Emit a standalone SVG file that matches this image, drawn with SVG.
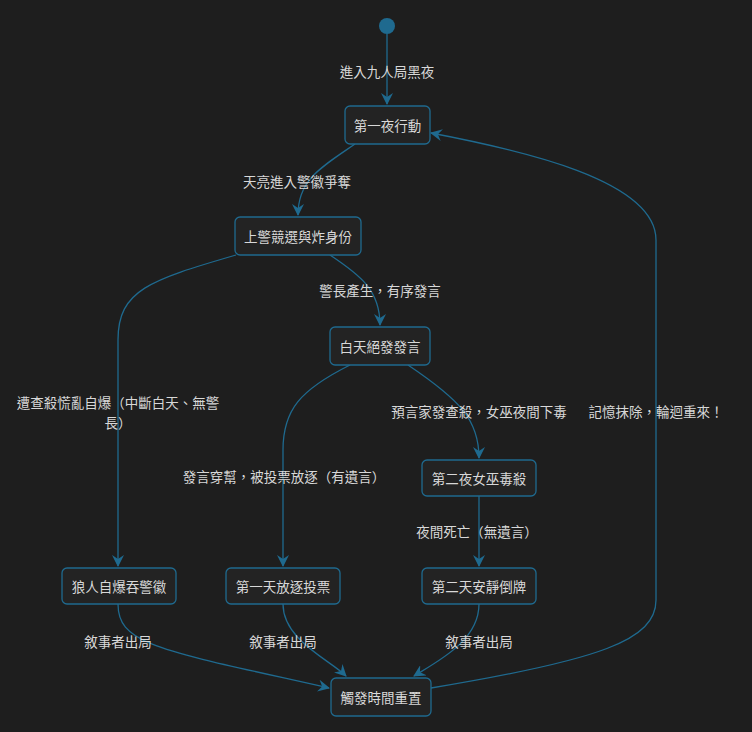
<svg xmlns="http://www.w3.org/2000/svg" width="752" height="732" viewBox="0 0 752 732">
<defs>
<marker id="a" viewBox="0 0 12 12" refX="11" refY="6" markerWidth="12" markerHeight="12" markerUnits="userSpaceOnUse" orient="auto"><path d="M0,0 L12,6 L0,12 L4,6 Z" fill="#1f6a8f"/></marker>
<style>
.n rect{fill:#232323;stroke:#1f6a8f;stroke-width:1.3}
text{font-family:"Noto Sans CJK TC","Noto Sans CJK SC",sans-serif;font-size:13.5px;fill:#d8d8d8;text-anchor:middle;dominant-baseline:central}
.e path{fill:none;stroke:#1f6a8f;stroke-width:1.3;marker-end:url(#a)}
</style>
</defs>
<rect width="752" height="732" fill="#1e1e1e"/>
<g class="e" id="edges">
<path d="M387,34 L387,104"/>
<path d="M355,144 C320,168 298,180 298,215"/>
<path d="M330,255 C360,275 380,290 380,325"/>
<path d="M236,255 C150,280 118,290 118,340 L118,566"/>
<path d="M350,365 C300,390 283,410 283,450 L283,566"/>
<path d="M408,365 C460,400 479,420 479,458"/>
<path d="M479,496 L479,566"/>
<path d="M118,604 C118,645 160,650 329,688"/>
<path d="M283,604 C283,640 330,660 346,676"/>
<path d="M479,604 C479,640 440,660 414,676"/>
<path d="M431,688 C600,660 656,640 656,600 L656,240 C656,180 520,150 431,133"/>
</g>
<g id="labels">
<text x="387" y="71">進入九人局黑夜</text>
<text x="297" y="181">天亮進入警徽爭奪</text>
<text x="380" y="290">警長產生，有序發言</text>
<text x="118" y="402">遭查殺慌亂自爆（中斷白天、無警</text>
<text x="118" y="422">長）</text>
<text x="479" y="411">預言家發查殺，女巫夜間下毒</text>
<text x="656" y="411">記憶抹除，輪迴重來！</text>
<text x="284" y="476">發言穿幫，被投票放逐（有遺言）</text>
<text x="477" y="531">夜間死亡（無遺言）</text>
<text x="118" y="641">敘事者出局</text>
<text x="283" y="641">敘事者出局</text>
<text x="479" y="641">敘事者出局</text>
</g>
<circle id="start" cx="387" cy="26" r="8" fill="#1f6a8f"/>
<g class="n" id="n1"><rect x="345" y="106" width="85" height="38" rx="5"/><text x="387.5" y="125">第一夜行動</text></g>
<g class="n" id="n2"><rect x="235" y="217" width="126" height="38" rx="5"/><text x="298" y="236">上警競選與炸身份</text></g>
<g class="n" id="n3"><rect x="330" y="327" width="100" height="38" rx="5"/><text x="380" y="346">白天絕發發言</text></g>
<g class="n" id="n4"><rect x="422" y="460" width="114" height="36" rx="5"/><text x="479" y="478">第二夜女巫毒殺</text></g>
<g class="n" id="n5"><rect x="62" y="568" width="114" height="36" rx="5"/><text x="119" y="586">狼人自爆吞警徽</text></g>
<g class="n" id="n6"><rect x="226" y="568" width="114" height="36" rx="5"/><text x="283" y="586">第一天放逐投票</text></g>
<g class="n" id="n7"><rect x="422" y="568" width="114" height="36" rx="5"/><text x="479" y="586">第二天安靜倒牌</text></g>
<g class="n" id="n8"><rect x="331" y="678" width="100" height="38" rx="5"/><text x="381" y="697">觸發時間重置</text></g>
</svg>
